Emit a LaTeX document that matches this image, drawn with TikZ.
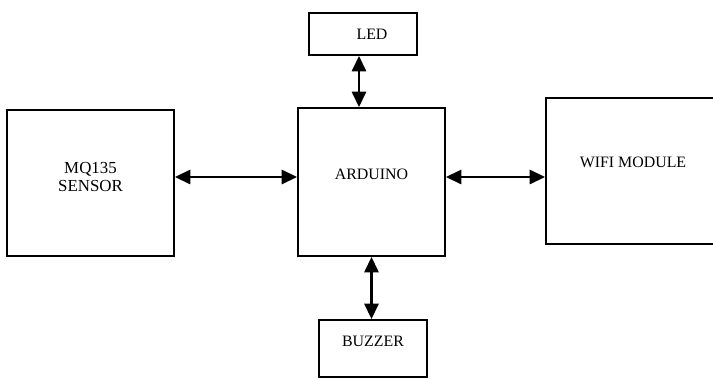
\documentclass[tikz,border=0pt]{standalone}
\usepackage{fontspec}
\setmainfont{Liberation Serif}
\usepackage{tikz}
\usetikzlibrary{arrows.meta,positioning,calc}

\tikzset{
	block/.style={draw, line width=1.2pt},
	every label/.style={align=center, font=\fontsize{11.3}{12.8}\selectfont},
	link/.style={line width=1.8pt, {Triangle[length=11pt,width=10pt]}-{Triangle[length=11pt,width=10pt]}}
}

\begin{document}
\begin{tikzpicture}[x=0.025cm,y=-0.025cm]
		\clip (0,0) rectangle (713,378);

		\node[block, minimum width=2.7cm, minimum height=1.05cm,
			label={[xshift=0.225cm]center:LED}] (led) at (363,34) {};
		\node[block, minimum width=3.675cm, minimum height=3.7cm,
			label={[yshift=0.19cm]center:ARDUINO}] (arduino) at (371.5,182) {};
		\node[block, minimum width=4.175cm, minimum height=3.65cm,
			label={[yshift=0.16cm, font=\fontsize{12}{12.8}\selectfont]center:MQ135\\SENSOR}] (sensor) at (90.5,183) {};
		\node[block, minimum width=4.35cm, minimum height=3.65cm,
			label={[yshift=0.225cm]center:WIFI MODULE}] (wifi) at (633,171) {};
		\node[block, minimum width=2.7cm, minimum height=1.425cm,
			label={[yshift=0.19cm]center:BUZZER}] (buzzer) at (373,348.5) {};

		\draw[link] ([xshift=-0.1cm]led.south) -- ([xshift=-0.1cm]led.south |- arduino.north);
		\draw[link] ([yshift=0.15cm]sensor.east) -- ([yshift=0.15cm]sensor.east -| arduino.west);
		\draw[link] ([yshift=0.125cm]arduino.east) -- ([yshift=0.125cm]arduino.east -| wifi.west);
		\draw[link] (arduino.south) -- (arduino.south |- buzzer.north);
	\end{tikzpicture}
\end{document}
